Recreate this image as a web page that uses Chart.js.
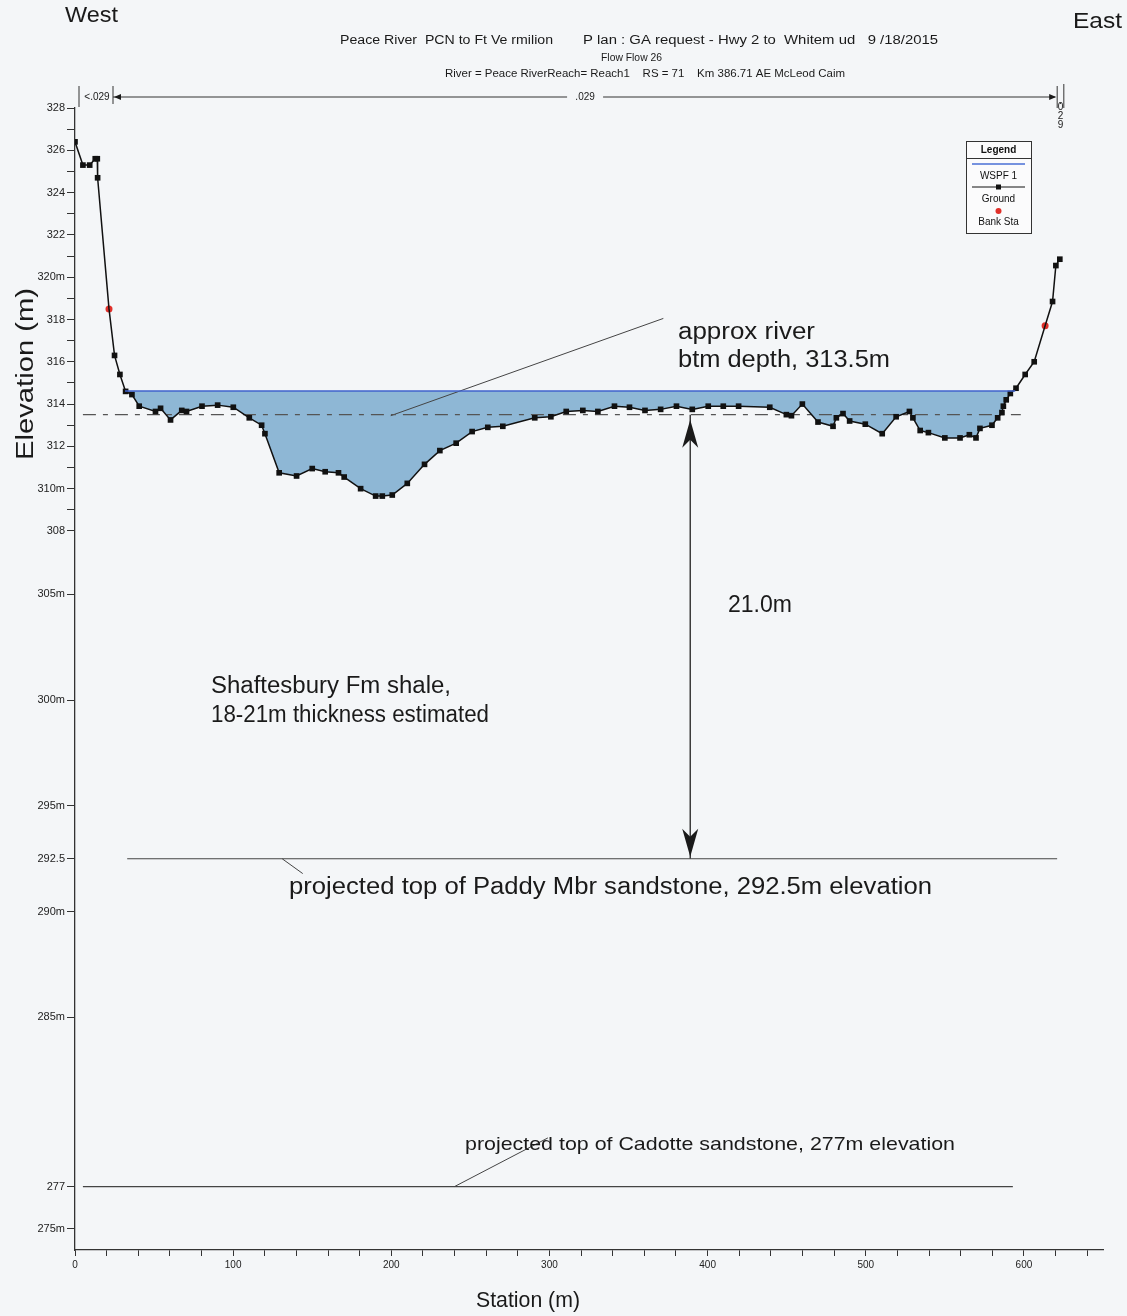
<!DOCTYPE html>
<html>
<head>
<meta charset="utf-8">
<script src="https://cdn.jsdelivr.net/npm/chart.js@4.4.0/dist/chart.umd.min.js"></script>
<style>
  html, body { margin: 0; padding: 0; background: #f4f6f8; }
  canvas { display: block; }
</style>
</head>
<body>
<canvas id="xsChart" width="1127" height="1316"></canvas>
<script>
// ground profile (station m, elevation m)
const groundStation = [
  0, 5.0, 9.3, 12.8, 14.1, 14.3, 21.5, 25.0, 28.4, 32.0, 36.0, 40.6, 50.9, 54.1, 60.4, 67.5, 70.5,
  80.3, 90.2, 100.1, 110.2, 118.0, 120.1, 129.1, 140.1, 150.0, 158.2, 166.6, 170.2, 180.6, 190.1,
  194.3, 200.6, 210.1, 221.0, 230.7, 241.0, 251.1, 261.0, 270.5, 290.7, 300.9, 310.6, 321.1, 330.6,
  341.1, 350.6, 360.4, 370.3, 380.3, 390.3, 400.4, 409.9, 419.6, 439.3, 449.8, 453.0, 459.9, 469.8,
  479.3, 481.4, 485.6, 489.8, 499.7, 510.4, 519.2, 527.6, 529.8, 534.4, 539.6, 550.0, 559.6, 565.5,
  569.7, 572.2, 579.8, 583.4, 586.1, 587.0, 588.8, 591.4, 595.0, 600.8, 606.5, 613.4, 618.1, 620.2, 622.7
];
const groundElev = [
  326.4, 325.3, 325.3, 325.6, 325.6, 324.7, 318.5, 316.3, 315.4, 314.6, 314.45, 313.9, 313.65, 313.8, 313.25, 313.7, 313.65,
  313.9, 313.95, 313.85, 313.35, 313.0, 312.6, 310.75, 310.6, 310.95, 310.8, 310.75, 310.55, 310.0, 309.65,
  309.65, 309.7, 310.25, 311.15, 311.8, 312.15, 312.7, 312.9, 312.95, 313.35, 313.4, 313.65, 313.7, 313.65,
  313.9, 313.85, 313.7, 313.75, 313.9, 313.75, 313.9, 313.9, 313.9, 313.85, 313.5, 313.45, 314.0, 313.15,
  312.95, 313.35, 313.55, 313.2, 313.05, 312.6, 313.4, 313.65, 313.35, 312.75, 312.65, 312.4, 312.4, 312.55,
  312.4, 312.85, 313.0, 313.35, 313.6, 313.9, 314.2, 314.5, 314.75, 315.4, 316.0, 317.7, 318.85, 320.55, 320.85
];
const bankStation = [21.5, 613.4];
const bankElev = [318.5, 317.7];

const waterStation = [31.6, 594.5];
const waterElev = [314.62, 314.62];

const btmStation = [5, 598];
const btmElev = [313.5, 313.5];
const paddyStation = [33, 621];
const paddyElev = [292.5, 292.5];
const cadotteStation = [5, 593];
const cadotteElev = [277, 277];

const approxLeaderStation = [199.6, 372];
const approxLeaderElev = [313.45, 318.05];
const paddyLeaderStation = [131, 144];
const paddyLeaderElev = [292.5, 291.8];
const cadotteLeaderStation = [240, 299];
const cadotteLeaderElev = [277, 279.3];

const depthStation = [389, 389];
const depthElev = [313.5, 292.5];

// manning n change points along the top
const nBreaks = [0, 21.5, 618.5, 622.7];

const yTicks = [275, 277, 285, 290, 292.5, 295, 300, 305, 308, 309, 310, 311, 312, 313, 314, 315, 316, 317,
  318, 319, 320, 321, 322, 323, 324, 325, 326, 327, 328];
const yTickLabels = ['275m', '277', '285m', '290m', '292.5', '295m', '300m', '305m', '308', '', '310m', '', '312', '', '314', '', '316', '',
  '318', '', '320m', '', '322', '', '324', '', '326', '', '328'];
const xTicks = [];
for (let v = 0; v <= 640; v += 20) xTicks.push(v);

const pts = (xs, ys) => xs.map((x, i) => ({ x: x, y: ys[i] }));
const FONT = '"Liberation Sans", Arial, sans-serif';

function fitText(ctx, text, x, y, w, size, align) {
  ctx.save();
  ctx.font = size + 'px ' + FONT;
  const m = ctx.measureText(text).width;
  const k = w / m;
  ctx.translate(x, y);
  ctx.scale(k, 1);
  ctx.textAlign = align || 'left';
  ctx.textBaseline = 'middle';
  ctx.fillText(text, 0, 0);
  ctx.restore();
}

function arrowHead(ctx, x, y, dir) {
  ctx.beginPath();
  ctx.moveTo(x, y);
  ctx.lineTo(x - 8, y - dir * 28);
  ctx.lineTo(x, y - dir * 20);
  ctx.lineTo(x + 8, y - dir * 28);
  ctx.closePath();
  ctx.fill();
}

const overlay = {
  id: 'overlay',
  afterDraw(chart) {
    const ctx = chart.ctx;
    const xs = chart.scales.x, ys = chart.scales.y;
    ctx.save();
    ctx.fillStyle = '#1a1a1a';

    // corner labels and titles
    fitText(ctx, 'West', 65, 16, 53, 22);
    fitText(ctx, 'East', 1073, 22, 49, 22);
    fitText(ctx, 'Peace River  PCN to Ft Ve rmilion', 340, 41, 213, 12);
    fitText(ctx, 'P lan : GA request - Hwy 2 to  Whitem ud   9 /18/2015', 583, 41, 355, 12);
    fitText(ctx, 'Flow Flow 26', 601, 58, 61, 10);
    fitText(ctx, 'River = Peace RiverReach= Reach1    RS = 71    Km 386.71 AE McLeod Caim', 445, 74, 400, 10);
    fitText(ctx, 'Station (m)', 476, 1301, 104, 22);
    ctx.save();
    ctx.translate(27, 374);
    ctx.rotate(-Math.PI / 2);
    fitText(ctx, 'Elevation (m)', -86, 0, 172, 23);
    ctx.restore();

    // annotations
    fitText(ctx, 'approx river', 678, 333, 137, 23);
    fitText(ctx, 'btm depth, 313.5m', 678, 361, 212, 23);
    fitText(ctx, '21.0m', 728, 606, 64, 23);
    fitText(ctx, 'Shaftesbury Fm shale,', 211, 687, 240, 23);
    fitText(ctx, '18-21m thickness estimated', 211, 716, 278, 23);
    fitText(ctx, 'projected top of Paddy Mbr sandstone, 292.5m elevation', 289, 888, 643, 23);
    fitText(ctx, 'projected top of Cadotte sandstone, 277m elevation', 465, 1145, 490, 19);

    // depth arrow heads
    const ax = xs.getPixelForValue(depthStation[0]);
    arrowHead(ctx, ax, ys.getPixelForValue(depthElev[0]) + 5, -1);
    arrowHead(ctx, ax, ys.getPixelForValue(depthElev[1]) - 2, 1);

    // manning n markers
    const ny = 97;
    const p = nBreaks.map(v => xs.getPixelForValue(v) + 4);
    ctx.strokeStyle = '#333';
    ctx.lineWidth = 1;
    ctx.beginPath();
    ctx.moveTo(p[0], 86); ctx.lineTo(p[0], 107);
    ctx.moveTo(p[1], 86); ctx.lineTo(p[1], 104);
    ctx.moveTo(p[2], 86); ctx.lineTo(p[2], 108);
    ctx.moveTo(p[3], 84); ctx.lineTo(p[3], 108);
    ctx.moveTo(p[1], ny); ctx.lineTo(p[1] + 6, ny);
    ctx.moveTo(p[1] + 6, ny); ctx.lineTo((p[1] + p[2]) / 2 - 18, ny);
    ctx.moveTo((p[1] + p[2]) / 2 + 18, ny); ctx.lineTo(p[2] - 2, ny);
    ctx.stroke();
    ctx.beginPath();
    ctx.moveTo(p[2] - 1, ny); ctx.lineTo(p[2] - 8, ny - 3); ctx.lineTo(p[2] - 8, ny + 3); ctx.closePath();
    ctx.moveTo(p[1] + 1, ny); ctx.lineTo(p[1] + 8, ny - 3); ctx.lineTo(p[1] + 8, ny + 3); ctx.closePath();
    ctx.fill();
    ctx.font = '10px ' + FONT;
    ctx.textAlign = 'center';
    ctx.textBaseline = 'middle';
    ctx.fillText('<.029', (p[0] + p[1]) / 2 + 1, ny);
    ctx.fillText('.029', (p[1] + p[2]) / 2, ny);
    ctx.fillText('.', (p[2] + p[3]) / 2, 101);
    ctx.fillText('0', (p[2] + p[3]) / 2, 107);
    ctx.fillText('2', (p[2] + p[3]) / 2, 116);
    ctx.fillText('9', (p[2] + p[3]) / 2, 125);

    // legend box
    const lx = 966, ly = 141, lw = 65, lh = 92;
    ctx.fillStyle = '#fbfbfc';
    ctx.fillRect(lx, ly, lw, lh);
    ctx.strokeStyle = '#333';
    ctx.strokeRect(lx + 0.5, ly + 0.5, lw, lh);
    ctx.beginPath();
    ctx.moveTo(lx, ly + 17.5); ctx.lineTo(lx + lw, ly + 17.5);
    ctx.stroke();
    ctx.fillStyle = '#111';
    ctx.font = 'bold 10px ' + FONT;
    ctx.fillText('Legend', lx + lw / 2, ly + 9);
    ctx.font = '10px ' + FONT;
    ctx.strokeStyle = '#4a6fd6';
    ctx.lineWidth = 1.5;
    ctx.beginPath(); ctx.moveTo(lx + 6, ly + 23); ctx.lineTo(lx + lw - 6, ly + 23); ctx.stroke();
    ctx.fillText('WSPF 1', lx + lw / 2, ly + 35);
    ctx.strokeStyle = '#111';
    ctx.lineWidth = 1;
    ctx.beginPath(); ctx.moveTo(lx + 6, ly + 46); ctx.lineTo(lx + lw - 6, ly + 46); ctx.stroke();
    ctx.fillRect(lx + lw / 2 - 2.5, ly + 43.5, 5, 5);
    ctx.fillText('Ground', lx + lw / 2, ly + 58);
    ctx.fillStyle = '#e0302a';
    ctx.beginPath(); ctx.arc(lx + lw / 2, ly + 70, 3, 0, Math.PI * 2); ctx.fill();
    ctx.fillStyle = '#111';
    ctx.fillText('Bank Sta', lx + lw / 2, ly + 81);
    ctx.restore();
  }
};

const thinLine = (data, color, width, dash) => ({
  data: data,
  borderColor: color,
  borderWidth: width,
  borderDash: dash || [],
  pointRadius: 0,
  fill: false,
  tension: 0
});

const data = {
  datasets: [
    {
      label: 'WSPF 1',
      data: pts(waterStation, waterElev),
      borderColor: '#3f62cc',
      borderWidth: 1.5,
      pointRadius: 0,
      fill: { target: 1, above: 'rgba(142,183,213,1)', below: 'rgba(0,0,0,0)' }
    },
    {
      label: 'Ground',
      data: pts(groundStation, groundElev),
      borderColor: '#111',
      borderWidth: 1.5,
      pointStyle: 'rect',
      pointRadius: ctx => bankStation.includes(groundStation[ctx.dataIndex]) ? 0 : 4,
      pointBackgroundColor: '#111',
      pointBorderWidth: 0,
      tension: 0,
      fill: false
    },
    {
      label: 'Bank Sta',
      data: pts(bankStation, bankElev),
      showLine: false,
      pointRadius: 3.5,
      pointBackgroundColor: '#e0302a',
      pointBorderWidth: 0
    },
    thinLine(pts(btmStation, btmElev), '#555', 1.2, [13, 7, 5, 7]),
    thinLine(pts(paddyStation, paddyElev), '#444', 1.2),
    thinLine(pts(cadotteStation, cadotteElev), '#444', 1.2),
    thinLine(pts(approxLeaderStation, approxLeaderElev), '#444', 1),
    thinLine(pts(paddyLeaderStation, paddyLeaderElev), '#444', 1),
    thinLine(pts(cadotteLeaderStation, cadotteLeaderElev), '#444', 1),
    thinLine(pts(depthStation, depthElev), '#222', 1.3)
  ]
};

const config = {
  type: 'line',
  data: data,
  options: {
    responsive: false,
    animation: false,
    devicePixelRatio: 1,
    layout: { padding: { left: 0, top: 108, right: 24, bottom: 0 } },
    plugins: {
      legend: { display: false },
      tooltip: { enabled: false },
      filler: { drawTime: 'beforeDatasetsDraw' }
    },
    scales: {
      x: {
        type: 'linear',
        min: 0,
        max: 650,
        afterFit: s => { s.height = 66; },
        afterBuildTicks: axis => { axis.ticks = xTicks.map(v => ({ value: v })); },
        border: { display: true, color: '#333', width: 1.3 },
        grid: { drawOnChartArea: false, tickLength: 6, color: '#333' },
        ticks: {
          autoSkip: false,
          maxRotation: 0,
          padding: 3,
          color: '#222',
          font: { family: FONT, size: 10 },
          callback: v => (v % 100 === 0 ? String(v) : '')
        }
      },
      y: {
        type: 'linear',
        min: 274,
        max: 328,
        afterFit: s => { s.width = 75; },
        afterBuildTicks: axis => { axis.ticks = yTicks.map(v => ({ value: v })); },
        border: { display: true, color: '#333', width: 1.3 },
        grid: { drawOnChartArea: false, tickLength: 8, color: '#333' },
        ticks: {
          autoSkip: false,
          padding: 2,
          color: '#222',
          font: { family: FONT, size: 11 },
          callback: (v, i) => yTickLabels[i]
        }
      }
    }
  },
  plugins: [overlay]
};

const myChart = new Chart(document.getElementById('xsChart'), config);
</script>
</body>
</html>
